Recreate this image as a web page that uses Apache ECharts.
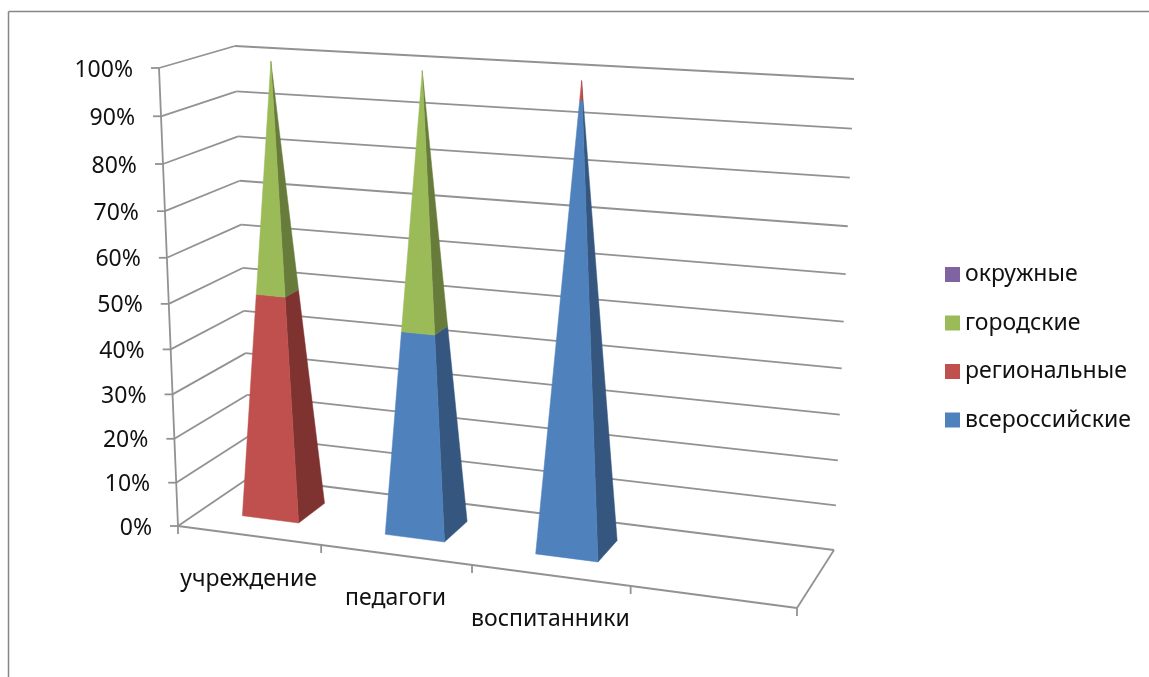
<!DOCTYPE html>
<html><head><meta charset="utf-8">
<style>html,body{margin:0;padding:0;background:#fff}#c{width:1149px;height:677px}</style>
<script src="https://cdn.jsdelivr.net/npm/echarts@6/dist/echarts.min.js"></script>
</head><body><div id="c"></div>
<script>
const categories = ['учреждение', 'педагоги', 'воспитанники'];
const categorySlots = 4;
const valueTicks = [0, 10, 20, 30, 40, 50, 60, 70, 80, 90, 100];
const vserossiyskie = [0, 45, 96];
const regionalnye = [50, 0, 4];
const gorodskie = [50, 55, 0];
const okruzhnye = [0, 0, 0];
const seriesNames = ['всероссийские', 'региональные', 'городские', 'окружные'];
const seriesColors = ['#4F81BD', '#C0504D', '#9BBB59', '#8064A2'];
const sideColors = ['#35577F', '#7F3331', '#677C3B', '#554370'];

const FONT = '23px "Noto Sans", sans-serif';
const LINE = '#929292';
// Perspective box corners: f/b front/back, l/r left/right, 0/1 floor/top
const BOX = {
  fl0: [178, 526], fr0: [797, 608], bl0: [250, 477], br0: [834, 550],
  fl1: [159, 68], fr1: [816, 115], bl1: [235, 46], br1: [854, 79]
};
const lerp = (a, b, t) => a + (b - a) * t;
function project(x, d, v) {
  const u = x - 0.1 * x * (1 - x);
  const t = v - 0.06 * v * (1 - v);
  const out = [];
  for (let i = 0; i < 2; i++) {
    const f0 = lerp(BOX.fl0[i], BOX.fr0[i], u), b0 = lerp(BOX.bl0[i], BOX.br0[i], u);
    const f1 = lerp(BOX.fl1[i], BOX.fr1[i], u), b1 = lerp(BOX.bl1[i], BOX.br1[i], u);
    out.push(lerp(lerp(f0, b0, d), lerp(f1, b1, d), t));
  }
  return out;
}
// axis value pair -> normalized position through the hidden cartesian axes
function norm(api, params, cx, val) {
  const p = api.coord([cx, val]);
  const s = params.coordSys;
  return [(p[0] - s.x) / s.width, 1 - (p[1] - s.y) / s.height];
}
const line = (a, b) => ({ type: 'line', shape: { x1: a[0], y1: a[1], x2: b[0], y2: b[1] },
  style: { stroke: LINE, lineWidth: 1.8 }, silent: true });
const text = (s, x, y, align) => ({ type: 'text', silent: true,
  style: { text: s, x, y, font: FONT, fill: '#111', textAlign: align, textVerticalAlign: 'middle' } });

function renderValueTick(params, api) {
  const val = api.value(0);
  const [, v] = norm(api, params, 0, val);
  const fl = project(0, 0, v), bl = project(0, 1, v), br = project(1, 1, v);
  const children = [line(fl, bl), line(bl, br), line(fl, [fl[0] - 8, fl[1]]),
    text(val + '%', fl[0] - 26, fl[1] + 2, 'right')];
  if (val === valueTicks[0]) {
    const top = project(0, 0, 1), fr = project(1, 0, v);
    children.push(line(fl, top), line(fl, fr), line(fr, br));
  }
  return { type: 'group', children };
}
function renderCatTick(params, api) {
  const c = api.value(0);
  const [x] = norm(api, params, c, 0);
  const p = project(x, 0, 0);
  const children = [line(p, [p[0], p[1] + 8])];
  if (c < categories.length) {
    const [xm] = norm(api, params, c + 0.5, 0);
    const m = project(xm, 0, 0);
    children.push(text(categories[c], m[0], m[1] + 44, 'center'));
  }
  return { type: 'group', children };
}
const HW = 0.2, D0 = 0.32, D1 = 0.71;
function makeRenderSeg(si) {
  return function (params, api) {
    const c = api.value(0), v0 = api.value(1), v1 = api.value(2);
    if (v1 <= v0) return null;
    const corner = (sx, sd, val) => {
      const [, v] = norm(api, params, 0, val);
      const k = 1 - v;
      const [x] = norm(api, params, c + 0.5 + sx * HW * k, 0);
      const dm = (D0 + D1) / 2;
      const d = dm + (sd > 0 ? D1 - dm : D0 - dm) * k;
      return project(x, d, v);
    };
    const front = [corner(-1, -1, v0), corner(1, -1, v0), corner(1, -1, v1), corner(-1, -1, v1)];
    const side = [corner(1, -1, v0), corner(1, 1, v0), corner(1, 1, v1), corner(1, -1, v1)];
    return { type: 'group', children: [
      { type: 'polygon', shape: { points: side }, style: { fill: sideColors[si], stroke: sideColors[si], lineWidth: 0.5 } },
      { type: 'polygon', shape: { points: front }, style: { fill: seriesColors[si], stroke: seriesColors[si], lineWidth: 0.5 } }
    ] };
  };
}
const seriesValues = [vserossiyskie, regionalnye, gorodskie, okruzhnye];
const running = categories.map(() => 0);
const segSeries = seriesValues.map((vals, si) => {
  const data = vals.map((val, c) => {
    const row = [c, running[c], running[c] + val];
    running[c] += val;
    return row;
  });
  return { type: 'custom', name: seriesNames[si], data, renderItem: makeRenderSeg(si),
    itemStyle: { color: seriesColors[si] }, encode: { x: 0, y: [1, 2] }, z: 5, silent: true };
});

const chart = echarts.init(document.getElementById('c'), null, { renderer: 'canvas' });
chart.setOption({
  animation: false,
  backgroundColor: '#fff',
  color: seriesColors,
  tooltip: { show: false },
  grid: { left: 0, right: 0, top: 0, bottom: 0, containLabel: false },
  xAxis: { type: 'value', min: 0, max: categorySlots, show: false },
  yAxis: { type: 'value', min: 0, max: 100, show: false },
  legend: {
    orient: 'vertical', left: 940, top: 258, itemWidth: 15, itemHeight: 15, itemGap: 25.5,
    icon: 'rect', selectedMode: false, data: seriesNames.slice().reverse(),
    itemStyle: { borderWidth: 0 },
    textStyle: { fontFamily: '"Noto Sans", sans-serif', fontSize: 23, color: '#111' }
  },
  graphic: [
    { type: 'line', shape: { x1: 8.5, y1: 11.5, x2: 1149, y2: 11.5 }, style: { stroke: '#868686', lineWidth: 1.5 }, silent: true },
    { type: 'line', shape: { x1: 8.5, y1: 11.5, x2: 8.5, y2: 677 }, style: { stroke: '#868686', lineWidth: 1.5 }, silent: true }
  ],
  series: [
    { type: 'custom', name: 'ticks', data: valueTicks.map(v => [v]), encode: { y: 0 }, renderItem: renderValueTick, z: 2, silent: true },
    { type: 'custom', name: 'cats', data: Array.from({ length: categorySlots + 1 }, (_, i) => [i]), encode: { x: 0 }, renderItem: renderCatTick, z: 2, silent: true },
    ...segSeries
  ]
});
</script></body></html>
